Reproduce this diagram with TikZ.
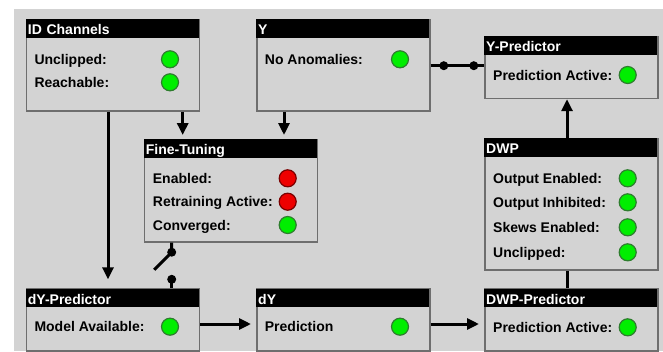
\documentclass[tikz,border=0pt]{standalone}
\usepackage{fontspec}
\setmainfont{Liberation Sans}
\usetikzlibrary{arrows.meta,calc}
\definecolor{bgc}{HTML}{D3D3D3}
\definecolor{bordc}{HTML}{6E6E6E}
\definecolor{lgreen}{HTML}{00EE00}
\definecolor{dgreen}{HTML}{2E7D2E}
\definecolor{lred}{HTML}{EE0000}
\definecolor{dred}{HTML}{7A0000}
\tikzset{
  panel/.style={draw=bordc, line width=1.5pt, fill=bgc, inner sep=0pt, anchor=north west},
  headbar/.style={fill=black, text=white, font=\bfseries\fontsize{14}{14}\selectfont,
    anchor=north west, inner xsep=2pt, inner ysep=0pt, text width=169pt, align=left,
    minimum height=18.6pt, text height=14pt, text depth=1.3pt},
  lbl/.style={font=\bfseries\fontsize{14}{14}\selectfont, anchor=base west, inner sep=0pt},
  lampg/.style={circle, draw=dgreen, fill=lgreen, line width=1.2pt, minimum size=17pt, inner sep=0pt},
  lampr/.style={circle, draw=dred, fill=lred, line width=1.2pt, minimum size=17pt, inner sep=0pt},
  conn/.style={line width=3pt, black},
  arr/.style={conn, -{Triangle[length=12pt,width=11pt]}},
}
\newcommand\mypanel[6]{%
  \node[panel, minimum width=173pt, minimum height=#5pt] (#1) at (#2,#3) {};
  \node[headbar] (#1h) at (#1.north west) {#6};
}
\begin{document}
\begin{tikzpicture}[x=1pt,y=-1pt]
\useasboundingbox (0,0) rectangle (663,351);
\clip (0,0) rectangle (663,351);
\fill[white] (0,0) rectangle (663,351);
\fill[bgc] (14,9) rectangle (663,351);

% panels
\mypanel{idc}{25.7}{18.7}{173}{91.6}{ID Channels}
\mypanel{yy}{256}{18.7}{173}{91.6}{Y}
\mypanel{ft}{143.7}{139}{173}{102}{Fine-Tuning}
\mypanel{ypred}{484}{35.7}{173}{62}{Y-Predictor}
\mypanel{dwp}{484}{137.7}{173}{131.6}{DWP}
\mypanel{dwpp}{484}{288.3}{173}{62}{DWP-Predictor}
\mypanel{dyp}{25.7}{288.3}{173}{62}{dY-Predictor}
\mypanel{dy}{256}{288.3}{173}{62}{dY}

% rows
\node[lbl] (idcl1) at (34.3,64.3) {Unclipped:};
\node[lampg] (idcp1) at (170,59.3) {};
\node[lbl] (idcl2) at (34.3,87.3) {Reachable:};
\node[lampg] (idcp2) at (170,82.3) {};

\node[lbl] (yyl1) at (264.7,64.3) {No Anomalies:};
\node[lampg] (yyp1) at (400,59.3) {};

\node[lbl] (ypl1) at (493,80) {Prediction Active:};
\node[lampg] (ypp1) at (627.7,75) {};

\node[lbl] (ftl1) at (152.7,183.3) {Enabled:};
\node[lampr] (ftp1) at (287.7,178.3) {};
\node[lbl] (ftl2) at (152.7,206.7) {Retraining Active:};
\node[lampr] (ftp2) at (287.7,201.7) {};
\node[lbl] (ftl3) at (152.7,230) {Converged:};
\node[lampg] (ftp3) at (287.7,225) {};

\node[lbl] (dwpl1) at (493,183.3) {Output Enabled:};
\node[lampg] (dwpp1) at (627.7,178.3) {};
\node[lbl] (dwpl2) at (493,207.3) {Output Inhibited:};
\node[lampg] (dwpp2) at (627.7,202.3) {};
\node[lbl] (dwpl3) at (493,232.3) {Skews Enabled:};
\node[lampg] (dwpp3) at (627.7,227.3) {};
\node[lbl] (dwpl4) at (493,257.3) {Unclipped:};
\node[lampg] (dwpp4) at (627.7,252.3) {};

\node[lbl] (dypl1) at (34.3,331.7) {Model Available:};
\node[lampg] (dypp1) at (170,326.7) {};
\node[lbl] (dyl1) at (264.7,331.7) {Prediction};
\node[lampg] (dyp1) at (400,326.7) {};
\node[lbl] (dwppl1) at (493,332.3) {Prediction Active:};
\node[lampg] (dwppp1) at (627.7,327.3) {};

% connectors
\path (idc.south west) ++(157,0) coordinate (a1);
\draw[arr, shorten >=4pt] (a1) -- (a1 |- ft.north);
\path (yy.south west) ++(28,0) coordinate (a2);
\draw[arr, shorten >=4pt] (a2) -- (a2 |- ft.north);
\path (idc.south west) ++(82.3,0) coordinate (a3);
\draw[arr, shorten >=9pt] (a3) -- (a3 |- dyp.north);

\path (yy.north east) ++(0,47) coordinate (a4);
\draw[conn] (a4) -- (a4 -| ypred.west);
\fill ($(a4)+(13.3,0)$) circle (4.5pt);
\fill ($(a4)+(43.3,0)$) circle (4.5pt);

\path (dwp.north west) ++(83,0) coordinate (a5);
\draw[arr] (a5) -- (a5 |- ypred.south);
\path (dwp.south west) ++(83,0) coordinate (a6);
\draw[conn] (a6) -- (a6 |- dwpp.north);

\path (dyp.north east) ++(0,35.7) coordinate (a7);
\draw[arr, shorten >=5pt] (a7) -- (a7 -| dy.west);
\path (dy.north east) ++(0,35.7) coordinate (a8);
\draw[arr, shorten >=5pt] (a8) -- (a8 -| dwpp.west);

% switch
\path (ft.south west) ++(28,0) coordinate (s0);
\path (s0) ++(0,9.7) coordinate (s1);
\path (s1) ++(-17.4,17.6) coordinate (s2);
\path (s0 |- dyp.north) ++(0,-9) coordinate (s3);
\draw[conn] (s0) -- (s1) -- (s2);
\fill (s1) circle (4.5pt);
\draw[conn] (s3) -- (s3 |- dyp.north);
\fill (s3) circle (4.5pt);
\end{tikzpicture}
\end{document}
